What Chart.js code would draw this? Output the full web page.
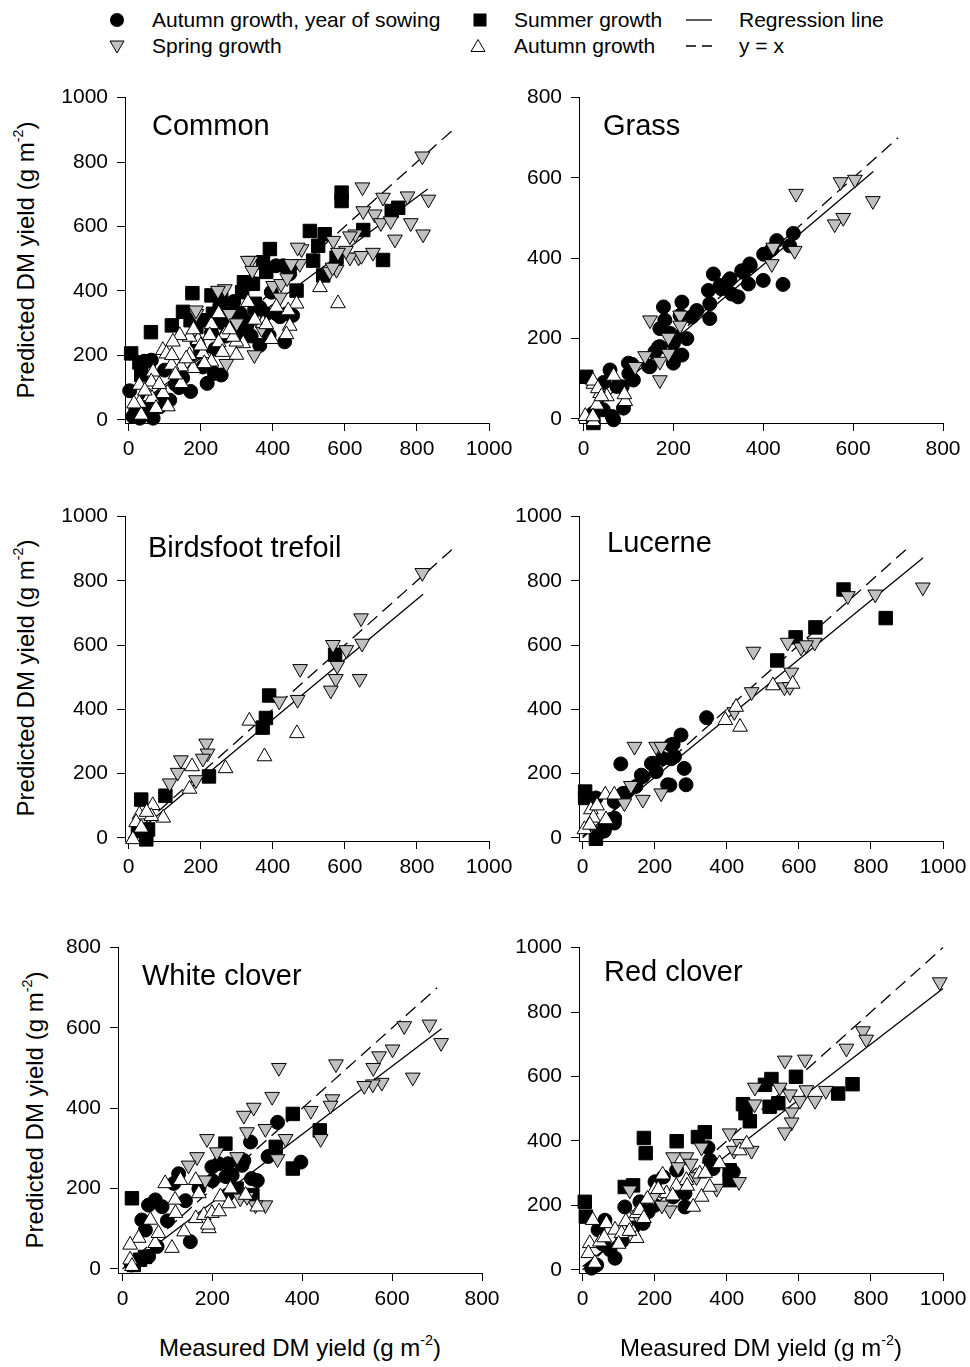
<!DOCTYPE html>
<html><head><meta charset="utf-8">
<script src="https://cdn.jsdelivr.net/npm/chart.js@4.4.1/dist/chart.umd.min.js"></script>
<style>
html,body{margin:0;padding:0;background:#fff;}
body{width:970px;height:1367px;position:relative;overflow:hidden;font-family:"Liberation Sans",Arial,sans-serif;color:#000;}
canvas{position:absolute;}
.t{position:absolute;white-space:nowrap;line-height:1;}
.lg{font-size:21px;}
.pt{font-size:29px;}
.ax{font-size:24px;}
sup{font-size:0.6em;line-height:0;vertical-align:0.75em;}
.yt{transform:translate(-50%,-50%) rotate(-90deg);}
.xt{transform:translateX(-50%);}
#lgsvg{position:absolute;left:0;top:0;}
</style></head><body>
<svg id="lgsvg" width="970" height="70">
  <circle cx="117" cy="20" r="7" fill="#000"/>
  <rect x="473.5" y="13.5" width="13" height="13" fill="#000"/>
  <line x1="686" y1="20" x2="712" y2="20" stroke="#000" stroke-width="1.3"/>
  <polygon points="110,41 124,41 117,53" fill="#c0c0c0" stroke="#000" stroke-width="1"/>
  <polygon points="478,39.5 485,51.5 471,51.5" fill="#fff" stroke="#000" stroke-width="1"/>
  <line x1="686" y1="46" x2="712" y2="46" stroke="#000" stroke-width="1.3" stroke-dasharray="10 6"/>
</svg>
<div id="overlay"></div>
<script>
// ---------- tick labels / names ----------
const ticks1000 = [0, 200, 400, 600, 800, 1000];
const ticks800 = [0, 200, 400, 600, 800];
const panelNames = ['Common', 'Grass', 'Birdsfoot trefoil', 'Lucerne', 'White clover', 'Red clover'];
const seriesNames = ['Autumn growth, year of sowing', 'Summer growth', 'Spring growth', 'Autumn growth', 'Regression line', 'y = x'];

// ---------- Common ----------
const commonSow = [[3,90],[12,10],[31,5],[68,5],[40,40],[86,40],[63,185],[100,154],[114,61],[172,88],[206,164],[218,113],[238,144],[257,139],[253,354],[281,288],[292,367],[327,288],[364,231],[364,349],[382,329],[390,262],[396,396],[410,329],[409,478],[429,478],[433,242],[438,329],[447,453],[447,473],[455,324],[280,330],[320,310],[340,260],[300,265],[350,340],[260,300],[230,270],[190,240],[150,130],[130,110],[90,70],[50,60],[20,30],[60,20],[270,260],[310,330],[330,300],[420,320],[200,210],[140,100],[240,220]];
const commonSum = [[7,206],[30,178],[55,182],[62,272],[35,140],[120,293],[151,335],[177,393],[172,309],[203,309],[230,386],[257,375],[234,329],[188,288],[315,396],[320,427],[334,422],[345,422],[373,489],[382,459],[392,530],[466,401],[503,586],[526,540],[544,576],[540,448],[512,494],[577,503],[591,705],[591,679],[651,589],[706,496],[730,648],[748,658],[280,300],[350,360]];
const commonSpr = [[815,818],[649,722],[706,690],[774,694],[832,684],[683,638],[651,648],[700,611],[727,617],[783,611],[739,560],[817,576],[629,576],[614,570],[638,504],[614,504],[646,509],[678,519],[603,525],[568,556],[577,466],[558,460],[566,473],[581,519],[480,530],[475,484],[469,535],[451,484],[401,416],[423,422],[340,494],[331,494],[343,463],[349,201],[271,174],[280,329],[267,406],[248,401],[188,329],[187,340],[369,283],[300,300],[420,380],[440,440]];
const commonAut = [[531,411],[581,361],[466,360],[443,339],[447,291],[438,265],[396,250],[373,300],[331,365],[299,201],[318,237],[267,265],[230,296],[225,262],[193,247],[169,257],[142,262],[123,242],[95,216],[105,205],[169,200],[206,206],[230,180],[179,160],[146,165],[119,170],[68,149],[30,108],[63,118],[58,72],[96,82],[146,113],[35,15],[65,67],[109,41],[76,36],[30,52],[299,242],[290,257],[382,296],[350,310],[410,350],[250,330],[15,50],[45,90],[85,110],[130,140],[160,190],[200,230],[250,240],[280,280],[180,280],[120,200],[210,175],[260,210]];
const regCommon = [[0,25],[830,716]];
const idCommon = [[0,0],[900,900]];

// ---------- Grass ----------
const grassSow = [[467,462],[459,431],[430,444],[407,411],[400,345],[444,335],[370,386],[356,365],[367,336],[344,304],[326,349],[307,324],[289,361],[278,320],[281,287],[281,250],[252,270],[241,254],[219,291],[215,258],[178,279],[181,246],[170,225],[193,213],[200,188],[230,200],[219,159],[200,139],[170,180],[159,167],[148,130],[100,139],[111,97],[59,122],[74,81],[89,27],[67,-2],[44,23],[22,15],[304,332],[323,344],[330,311],[352,369],[401,410],[419,422],[208,203],[167,179],[145,131],[108,136],[86,80],[45,91],[64,6],[200,160],[101,113],[371,381]];
const grassSum = [[6,105],[22,-10]];
const grassSpr = [[473,561],[572,590],[604,596],[644,543],[559,485],[578,501],[470,419],[419,386],[422,427],[148,246],[215,258],[215,233],[170,143],[170,97],[189,163],[137,157],[115,130],[189,203]];
const grassAut = [[22,87],[37,64],[67,107],[93,44],[30,35],[22,-6],[4,7],[52,56],[21,95],[32,76],[91,61],[40,56],[21,6]];
const regGrass = [[0,5],[645,616]];
const idGrass = [[0,0],[700,700]];

// ---------- Birdsfoot trefoil ----------
const bftSow = [];
const bftSum = [[573,570],[390,443],[381,373],[372,343],[223,191],[102,131],[35,119],[26,21],[54,26],[49,-5]];
const bftSpr = [[815,825],[645,684],[648,605],[641,495],[604,585],[567,601],[579,536],[575,495],[561,459],[476,526],[469,430],[418,425],[215,294],[219,263],[206,247],[145,242],[136,203],[114,170],[187,180]];
const bftAut = [[335,364],[467,325],[377,253],[269,216],[176,222],[169,152],[96,62],[67,101],[30,72],[21,48],[35,31],[12,-5],[63,67],[50,80]];
const regBft = [[0,-5],[817,758]];
const idBft = [[0,0],[900,900]];

// ---------- Lucerne ----------
const lucSow = [[344,374],[106,230],[273,320],[245,289],[255,253],[222,247],[194,232],[204,206],[236,165],[282,216],[287,165],[167,191],[148,160],[120,139],[88,113],[79,57],[88,46],[60,21],[46,15],[37,124],[251,291],[246,246],[191,231],[242,164],[163,195],[112,138],[89,61],[61,30]];
const lucSum = [[724,773],[841,684],[646,655],[591,624],[540,552],[7,144],[7,124],[37,-3]];
const lucSpr = [[944,780],[812,758],[736,753],[474,580],[569,608],[606,593],[644,608],[579,515],[560,469],[469,454],[421,392],[144,284],[204,284],[218,284],[134,162],[167,119],[218,139],[116,108],[620,600],[575,470]];
const lucAut = [[528,474],[583,479],[396,366],[426,407],[437,345],[63,134],[23,88],[30,62],[65,57],[88,134],[5,26],[40,100],[20,40]];
const regLuc = [[0,5],[945,872]];
const idLuc = [[0,0],[900,900]];

// ---------- White clover ----------
const wcSow = [[345,365],[285,316],[287,225],[324,280],[266,258],[244,233],[235,262],[199,254],[214,262],[233,184],[397,266],[151,68],[125,237],[114,213],[73,172],[58,159],[88,155],[43,122],[51,97],[77,56],[58,31],[20,10],[100,120],[140,170],[170,200],[200,220],[230,230],[270,270],[300,220]];
const wcSum = [[21,176],[379,386],[439,345],[379,250],[341,304],[229,312],[254,200],[289,184],[39,23],[25,10],[50,30]];
const wcSpr = [[646,477],[683,609],[709,563],[627,605],[601,547],[571,530],[558,501],[577,464],[557,460],[538,456],[475,510],[467,423],[463,407],[419,394],[348,501],[333,429],[318,349],[363,324],[345,274],[292,402],[270,382],[277,341],[441,324],[318,159],[296,159],[188,324],[166,279],[147,258],[255,279],[210,291],[184,221],[262,176],[277,180]];
const wcAut = [[95,213],[129,221],[163,221],[117,172],[118,139],[163,126],[137,93],[110,52],[62,122],[36,77],[17,60],[17,23],[21,7],[73,64],[181,134],[192,101],[199,139],[218,180],[215,143],[236,163],[274,184],[300,155],[170,188],[80,89],[190,110],[240,200]];
const regWc = [[10,5],[710,598]];
const idWc = [[0,0],[700,700]];

// ---------- Red clover ----------
const rcSow = [[348,379],[353,340],[362,314],[418,304],[224,288],[201,273],[261,309],[117,195],[159,211],[182,180],[168,144],[284,237],[284,195],[251,226],[62,154],[43,124],[90,36],[39,15],[76,62],[55,80],[25,5],[110,90],[140,130],[200,200]];
const rcSum = [[749,576],[709,547],[592,599],[524,592],[506,574],[543,517],[519,506],[445,514],[452,486],[464,461],[339,427],[320,412],[261,399],[170,409],[175,362],[117,257],[140,262],[6,211],[9,165],[408,309],[408,278]];
const rcSpr = [[991,893],[778,741],[787,715],[732,687],[561,650],[617,653],[478,566],[547,566],[575,545],[580,489],[580,458],[561,427],[603,525],[645,525],[675,556],[621,558],[477,514],[469,370],[436,391],[408,424],[434,273],[372,252],[288,350],[251,350],[265,319],[316,288],[196,226],[131,247],[242,185],[150,170],[220,200],[300,330],[330,380],[420,370]];
const rcAut = [[28,154],[66,144],[90,124],[140,118],[150,98],[150,175],[159,185],[222,295],[233,237],[288,278],[325,298],[330,226],[307,195],[353,257],[436,370],[455,391],[108,113],[20,82],[16,51],[34,21],[48,87],[200,250],[260,260],[120,150],[60,100],[100,80],[180,220],[210,250],[250,230],[290,260],[340,300],[380,330],[170,160],[130,120]];
const regRc = [[0,10],[1000,873]];
const idRc = [[0,0],[1000,1000]];

// ---------- panel layout ----------
const panels = [
  {name: panelNames[0], sow: commonSow, sum: commonSum, spr: commonSpr, aut: commonAut, reg: regCommon, ident: idCommon, xt: ticks1000, yt: ticks1000, L:125, R:489, T:96, B:423, tx:27, ty:39, ytitle:26, xtitle:false},
  {name: panelNames[1], sow: grassSow, sum: grassSum, spr: grassSpr, aut: grassAut, reg: regGrass, ident: idGrass, xt: ticks800, yt: ticks800, L:579, R:943, T:96, B:423, tx:24, ty:39, ytitle:null, xtitle:false},
  {name: panelNames[2], sow: bftSow, sum: bftSum, spr: bftSpr, aut: bftAut, reg: regBft, ident: idBft, xt: ticks1000, yt: ticks1000, L:125, R:489, T:515, B:841, tx:23, ty:42, ytitle:26, xtitle:false},
  {name: panelNames[3], sow: lucSow, sum: lucSum, spr: lucSpr, aut: lucAut, reg: regLuc, ident: idLuc, xt: ticks1000, yt: ticks1000, L:579, R:943, T:515, B:841, tx:28, ty:37, ytitle:null, xtitle:false},
  {name: panelNames[4], sow: wcSow, sum: wcSum, spr: wcSpr, aut: wcAut, reg: regWc, ident: idWc, xt: ticks800, yt: ticks800, L:118, R:482, T:946, B:1273, tx:24, ty:39, ytitle:35, xtitle:true},
  {name: panelNames[5], sow: rcSow, sum: rcSum, spr: rcSpr, aut: rcAut, reg: regRc, ident: idRc, xt: ticks1000, yt: ticks1000, L:579, R:943, T:946, B:1273, tx:25, ty:35, ytitle:null, xtitle:true}
];

const FONT = '"Liberation Sans", Arial, sans-serif';
Chart.defaults.color = '#000';
Chart.defaults.font.family = FONT;

const LY = 70, HX = 50, PT = 20, PR = 40;
const overlay = document.getElementById('overlay');
function addText(cls, html, left, top) {
  const d = document.createElement('div');
  d.className = 't ' + cls;
  d.innerHTML = html;
  d.style.left = left + 'px';
  d.style.top = top + 'px';
  overlay.appendChild(d);
  return d;
}

// legend labels
addText('lg', seriesNames[0], 152, 9);
addText('lg', seriesNames[1], 514, 9);
addText('lg', seriesNames[4], 739, 9);
addText('lg', seriesNames[2], 152, 35);
addText('lg', seriesNames[3], 514, 35);
addText('lg', seriesNames[5], 739, 35);

const pts = a => a.map(([x, y]) => ({x, y}));
function markers(label, arr, style, fill, rot, r) {
  return {type: 'scatter', label, data: pts(arr), pointStyle: style, pointRadius: r,
    pointBackgroundColor: fill, pointBorderColor: '#000', pointBorderWidth: 1,
    pointRotation: rot, showLine: false, clip: false};
}
function axisOpts(tickVals, max, horizontal) {
  return {
    type: 'linear', min: -10, max: max,
    afterBuildTicks: s => { s.ticks = tickVals.map(v => ({value: v})); },
    afterFit: s => { if (horizontal) s.height = HX; else s.width = LY; },
    grid: {display: true, drawOnChartArea: false, drawTicks: true, tickLength: 8, color: '#000', lineWidth: 1},
    border: {display: true, color: '#000', width: 1},
    ticks: {color: '#000', font: {family: FONT, size: 21}, padding: horizontal ? 6 : 9, maxRotation: 0, autoSkip: false,
      callback: v => String(v)}
  };
}

panels.forEach(p => {
  const w = LY + (p.R - p.L) + PR, h = PT + (p.B - p.T) + HX;
  const cv = document.createElement('canvas');
  cv.width = w; cv.height = h;
  cv.style.left = (p.L - LY) + 'px';
  cv.style.top = (p.T - PT) + 'px';
  cv.style.width = w + 'px';
  cv.style.height = h + 'px';
  document.body.insertBefore(cv, overlay);
  new Chart(cv, {
    type: 'scatter',
    data: {datasets: [
      markers(seriesNames[3], p.aut, 'triangle', '#ffffff', 0, 8.5),
      markers(seriesNames[2], p.spr, 'triangle', '#c0c0c0', 180, 8.5),
      markers(seriesNames[1], p.sum, 'rect', '#000000', 0, 9.5),
      markers(seriesNames[0], p.sow, 'circle', '#000000', 0, 7),
      {type: 'line', label: seriesNames[4], data: pts(p.reg), borderColor: '#000', borderWidth: 1.3, pointRadius: 0, fill: false, clip: false},
      {type: 'line', label: seriesNames[5], data: pts(p.ident), borderColor: '#000', borderWidth: 1.3, borderDash: [13, 7], pointRadius: 0, fill: false, clip: false}
    ]},
    options: {
      responsive: false, animation: false, devicePixelRatio: 1, events: [],
      layout: {padding: {top: PT, right: PR, left: 0, bottom: 0}},
      plugins: {legend: {display: false}, tooltip: {enabled: false}},
      scales: {
        x: axisOpts(p.xt, p.xt[p.xt.length - 1], true),
        y: axisOpts(p.yt, p.yt[p.yt.length - 1], false)
      }
    }
  });
  addText('pt', p.name, p.L + p.tx, p.T + p.ty - 24.5);
  if (p.ytitle !== null) {
    addText('ax yt', 'Predicted DM yield (g m<sup>-2</sup>)', p.ytitle, (p.T + p.B) / 2);
  }
  if (p.xtitle) {
    addText('ax xt', 'Measured DM yield (g m<sup>-2</sup>)', (p.L + p.R) / 2, 1335.7);
  }
});
</script>
</body></html>
